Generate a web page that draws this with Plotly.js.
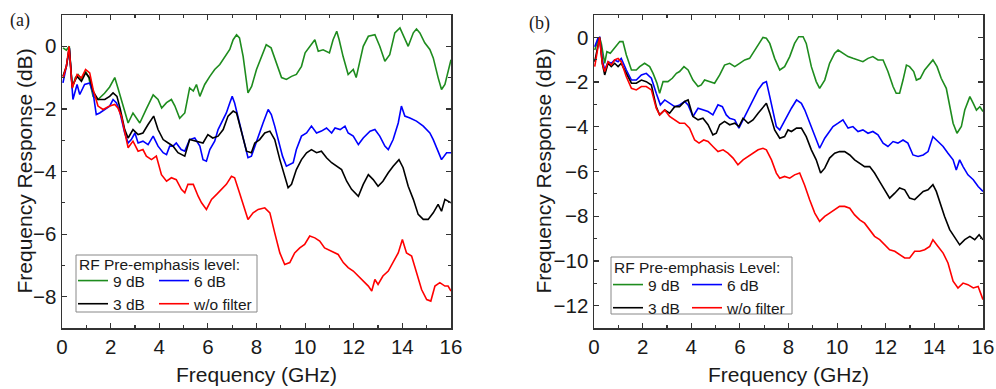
<!DOCTYPE html>
<html>
<head>
<meta charset="utf-8">
<script src="https://cdn.plot.ly/plotly-3.0.1.min.js"></script>
<style>
  html, body { margin: 0; padding: 0; background: #fff; }
  #chart { width: 996px; height: 389px; }
</style>
</head>
<body>
<div id="chart"></div>
<script>
// ---------- Panel (a) data ----------
const aGreenX = [0.04,0.18,0.3,0.42,0.55,0.66,0.8,0.97,1.1,1.28,1.48,1.75,1.96,2.17,2.3,2.5,2.72,2.92,3.2,3.47,3.75,3.95,4.1,4.3,4.5,4.64,4.84,5.05,5.25,5.4,5.53,5.67,5.87,6.08,6.28,6.49,6.63,6.9,7.04,7.18,7.3,7.45,7.65,7.8,8.0,8.2,8.4,8.6,8.82,9.03,9.23,9.44,9.64,9.85,10.0,10.2,10.4,10.54,10.74,11.0,11.15,11.3,11.4,11.56,11.77,11.98,12.1,12.25,12.39,12.6,12.87,13.07,13.28,13.48,13.69,13.9,14.1,14.24,14.45,14.58,14.72,14.92,15.13,15.27,15.47,15.61,15.75,15.88,16.0];
const aGreenY = [-0.05,-0.12,0,-1.35,-1.0,-0.9,-1.05,-0.8,-1.0,-1.6,-1.7,-1.5,-1.3,-1.0,-1.33,-1.9,-2.45,-2.13,-2.45,-2.0,-1.55,-1.7,-1.97,-1.8,-1.7,-1.9,-2.3,-2.13,-1.33,-1.43,-1.22,-1.6,-1.22,-0.96,-0.74,-0.58,-0.43,-0.1,0.21,0.37,0.27,-0.32,-1.49,-1.28,-0.74,-0.37,0.05,-0.05,-0.53,-1.0,-1.06,-0.96,-0.9,-0.64,-0.21,0,0.21,-0.16,-0.11,-0.21,0.21,0.48,0.21,-0.32,-0.9,-0.74,-1.0,-0.48,0,0.32,0.37,0,-0.48,-0.27,0.43,0.59,0.27,0,0.43,0.55,0.43,0.11,-0.1,-0.37,-1.0,-1.38,-1.22,-0.8,-0.43];

const aBlueX = [0.04,0.18,0.3,0.45,0.62,0.73,0.93,1.14,1.28,1.41,1.55,1.76,1.96,2.1,2.24,2.37,2.58,2.72,2.85,3.0,3.13,3.33,3.54,3.75,3.95,4.16,4.3,4.43,4.57,4.7,4.9,5.05,5.25,5.46,5.67,5.8,5.94,6.08,6.28,6.42,6.56,6.76,6.9,7.0,7.1,7.3,7.52,7.65,7.79,7.93,8.07,8.27,8.48,8.61,8.75,8.89,9.07,9.23,9.37,9.51,9.64,9.85,10.06,10.26,10.47,10.67,10.88,11.09,11.23,11.44,11.64,11.77,11.98,12.19,12.39,12.67,12.87,13.07,13.28,13.42,13.62,13.83,13.96,14.1,14.31,14.58,14.86,15.13,15.27,15.41,15.61,15.82,16.0];
const aBlueY = [-1.17,-0.64,-0.05,-1.7,-1.22,-1.54,-1.22,-1.17,-1.49,-2.18,-2.13,-2.02,-1.91,-1.7,-1.81,-2.07,-2.77,-3.09,-2.98,-2.77,-3.09,-3.03,-3.14,-2.87,-3.19,-3.4,-3.46,-3.19,-3.19,-3.09,-3.3,-3.35,-2.98,-2.93,-3.19,-3.62,-3.67,-3.3,-3.03,-2.66,-2.45,-2.13,-1.81,-1.6,-1.81,-2.45,-3.19,-3.56,-3.51,-3.19,-2.87,-2.45,-2.02,-2.18,-2.55,-2.98,-3.51,-3.83,-3.78,-3.72,-3.3,-2.87,-2.77,-2.55,-2.77,-2.71,-2.61,-2.77,-2.61,-2.66,-2.55,-2.77,-2.87,-3.14,-2.93,-2.71,-2.66,-2.87,-3.19,-3.3,-2.98,-2.45,-1.91,-2.23,-2.29,-2.39,-2.55,-2.77,-2.98,-3.25,-3.62,-3.4,-3.4];

const aBlackX = [0.04,0.18,0.3,0.42,0.62,0.8,0.97,1.14,1.28,1.48,1.76,1.96,2.1,2.26,2.4,2.58,2.72,2.92,3.13,3.33,3.54,3.77,3.95,4.16,4.37,4.57,4.77,5.05,5.25,5.53,5.8,6.0,6.2,6.42,6.63,6.83,7.04,7.18,7.38,7.59,7.79,7.93,8.13,8.34,8.55,8.75,8.96,9.16,9.3,9.44,9.64,9.85,10.06,10.26,10.47,10.67,10.88,11.09,11.3,11.5,11.71,11.91,12.19,12.39,12.6,12.8,13.0,13.2,13.42,13.62,13.86,14.03,14.24,14.45,14.65,14.86,15.06,15.27,15.47,15.61,15.75,16.0];
const aBlackY = [-0.96,-0.64,-0.05,-1.28,-0.96,-1.12,-0.85,-1.01,-1.44,-1.7,-1.7,-1.6,-1.49,-1.6,-2.02,-2.66,-2.93,-2.66,-2.82,-2.77,-2.5,-2.23,-2.66,-2.98,-3.09,-3.19,-3.4,-3.51,-2.98,-3.03,-3.09,-2.82,-2.93,-2.87,-2.66,-2.23,-2.07,-2.13,-2.77,-3.35,-3.4,-3.09,-2.98,-2.77,-2.71,-2.98,-3.62,-4.15,-4.52,-4.41,-3.94,-3.62,-3.4,-3.3,-3.4,-3.35,-3.56,-3.72,-3.83,-3.94,-4.31,-4.57,-4.79,-4.41,-4.1,-4.26,-4.47,-4.31,-4.04,-3.83,-3.62,-3.88,-4.47,-4.89,-5.37,-5.53,-5.53,-5.32,-5.05,-5.27,-4.89,-5.0];

const aRedX = [0.04,0.18,0.29,0.42,0.62,0.8,0.97,1.14,1.28,1.48,1.69,1.96,2.17,2.3,2.44,2.58,2.72,2.92,3.13,3.33,3.47,3.68,3.88,4.09,4.3,4.5,4.7,4.91,5.05,5.18,5.4,5.6,5.74,5.94,6.15,6.36,6.56,6.76,6.97,7.1,7.3,7.52,7.65,7.86,8.07,8.34,8.55,8.75,8.96,9.16,9.37,9.57,9.78,9.98,10.19,10.4,10.6,10.8,11.09,11.36,11.57,11.77,11.98,12.19,12.39,12.6,12.74,12.87,13.0,13.2,13.42,13.62,13.83,14.0,14.17,14.38,14.58,14.79,15.0,15.17,15.34,15.54,15.75,15.88,16.0];
const aRedY = [-1.01,-0.64,0,-1.33,-0.9,-1.01,-0.74,-0.85,-1.38,-1.91,-2.02,-1.91,-1.86,-1.97,-2.23,-2.77,-3.24,-3.03,-3.35,-3.3,-3.51,-3.62,-3.51,-4.1,-4.31,-4.2,-4.26,-4.57,-4.68,-4.41,-4.41,-4.79,-5.0,-5.21,-4.89,-4.73,-4.57,-4.41,-4.15,-4.2,-4.68,-5.21,-5.53,-5.32,-5.21,-5.16,-5.32,-5.96,-6.6,-6.97,-6.91,-6.6,-6.44,-6.33,-6.06,-6.12,-6.22,-6.44,-6.54,-6.65,-6.91,-7.07,-7.18,-7.34,-7.5,-7.66,-7.82,-7.45,-7.61,-7.34,-7.18,-6.91,-6.6,-6.17,-6.6,-6.7,-7.23,-7.77,-8.09,-8.14,-7.66,-7.55,-7.66,-7.66,-7.82];

// ---------- Panel (b) data ----------
const bGreenX = [0.03,0.16,0.23,0.3,0.44,0.53,0.67,0.78,0.92,1.06,1.19,1.33,1.54,1.74,1.88,2.08,2.29,2.43,2.59,2.7,2.84,3.04,3.22,3.39,3.52,3.7,3.87,4.07,4.28,4.41,4.55,4.76,4.96,5.17,5.37,5.58,5.79,5.99,6.2,6.4,6.61,6.81,6.95,7.09,7.23,7.43,7.64,7.84,8.05,8.25,8.42,8.6,8.73,8.94,9.14,9.28,9.49,9.69,9.9,10.04,10.24,10.45,10.65,10.86,11.06,11.27,11.47,11.68,11.89,12.09,12.3,12.43,12.57,12.71,12.85,12.98,13.15,13.26,13.42,13.6,13.81,13.94,14.11,14.28,14.49,14.63,14.77,14.93,15.11,15.25,15.46,15.6,15.73,15.87,16.0];
const bGreenY = [-0.57,-0.12,0,-0.27,-1.16,-0.64,-0.71,-0.57,-0.42,-0.19,-0.19,-0.79,-1.46,-1.46,-1.31,-1.16,-1.31,-1.61,-2.05,-2.5,-1.98,-1.98,-1.83,-1.61,-1.53,-1.31,-1.46,-1.91,-2.2,-2.13,-1.91,-1.98,-2.05,-1.68,-1.24,-1.16,-1.31,-1.16,-1.01,-0.94,-0.57,-0.27,0,-0.04,-0.27,-0.94,-1.46,-1.31,-0.86,-0.27,0.03,0.03,-0.27,-1.31,-1.98,-2.28,-1.91,-1.16,-0.71,-0.57,-0.71,-0.86,-0.94,-1.01,-1.09,-0.94,-0.86,-1.01,-1.01,-1.53,-2.2,-2.5,-2.5,-1.91,-1.24,-1.31,-1.53,-1.91,-1.83,-1.46,-1.16,-1.01,-1.31,-1.83,-2.28,-3.1,-3.84,-4.29,-3.99,-3.25,-2.65,-2.95,-3.25,-3.1,-3.32];

const bBlueX = [0.03,0.16,0.23,0.34,0.44,0.58,0.71,0.85,0.99,1.12,1.33,1.54,1.74,1.95,2.15,2.36,2.56,2.73,2.91,3.11,3.32,3.52,3.73,3.87,4.07,4.28,4.48,4.69,4.89,5.1,5.28,5.44,5.58,5.79,5.96,6.13,6.34,6.54,6.75,6.95,7.09,7.23,7.37,7.5,7.64,7.78,7.92,8.12,8.33,8.53,8.67,8.87,9.08,9.28,9.49,9.62,9.83,10.04,10.24,10.45,10.65,10.86,11.06,11.27,11.47,11.68,11.89,12.09,12.3,12.5,12.71,12.91,13.12,13.33,13.54,13.74,13.94,14.15,14.36,14.56,14.77,14.9,15.04,15.18,15.38,15.6,15.8,16.0];
const bBlueY = [-0.42,-0.04,0,-1.01,-1.46,-1.09,-1.16,-1.01,-1.09,-0.94,-1.46,-1.91,-1.91,-1.68,-1.61,-1.83,-2.5,-3.02,-2.8,-2.95,-3.1,-3.02,-2.87,-3.02,-3.54,-3.17,-3.25,-3.32,-3.47,-3.02,-3.1,-3.47,-3.62,-3.69,-4.06,-3.69,-3.25,-2.8,-2.35,-2.05,-1.98,-2.65,-3.39,-3.99,-4.14,-3.84,-3.54,-3.17,-2.8,-2.95,-3.25,-3.84,-4.44,-4.96,-4.51,-4.29,-3.99,-3.84,-3.69,-4.06,-3.99,-4.21,-4.14,-4.29,-4.21,-4.36,-4.73,-4.88,-4.66,-4.73,-4.59,-4.73,-5.26,-5.33,-5.26,-5.11,-4.44,-4.66,-4.88,-5.18,-5.48,-5.93,-5.48,-5.78,-6.15,-6.37,-6.67,-6.89];

const bBlackX = [0.03,0.16,0.23,0.34,0.44,0.58,0.71,0.85,0.99,1.12,1.33,1.54,1.74,1.95,2.15,2.36,2.56,2.7,2.91,3.11,3.32,3.52,3.73,3.87,4.07,4.28,4.48,4.69,4.89,5.03,5.17,5.37,5.58,5.79,5.96,6.13,6.34,6.54,6.75,6.95,7.09,7.23,7.43,7.64,7.84,7.98,8.12,8.33,8.53,8.73,8.94,9.14,9.32,9.49,9.69,9.9,10.1,10.31,10.52,10.72,10.93,11.13,11.34,11.54,11.75,11.96,12.16,12.37,12.57,12.78,12.98,13.19,13.4,13.54,13.74,13.94,14.08,14.28,14.42,14.63,14.84,15.04,15.25,15.46,15.66,15.84,16.0];
const bBlackY = [-1.09,-0.27,0,-1.16,-1.68,-1.16,-1.31,-1.16,-1.31,-1.16,-1.61,-2.05,-2.05,-1.91,-1.98,-2.13,-3.1,-3.47,-3.25,-3.39,-3.1,-3.1,-2.87,-2.8,-3.54,-3.69,-3.62,-3.91,-4.36,-4.29,-3.91,-3.76,-3.91,-3.84,-3.99,-3.62,-3.84,-3.69,-3.39,-3.1,-2.95,-3.39,-4.14,-4.51,-4.44,-4.14,-4.21,-4.06,-4.06,-4.44,-5.03,-5.48,-6.07,-5.85,-5.4,-5.18,-5.11,-5.11,-5.26,-5.48,-5.63,-5.78,-5.78,-6.07,-6.45,-6.82,-7.19,-6.97,-6.74,-6.82,-7.19,-7.26,-7.04,-6.89,-6.82,-6.59,-6.89,-7.56,-8.01,-8.6,-8.98,-9.28,-9.05,-8.9,-9.05,-8.83,-9.05];

const bRedX = [0.03,0.16,0.23,0.34,0.44,0.58,0.71,0.85,0.99,1.12,1.33,1.54,1.74,1.95,2.15,2.36,2.56,2.7,2.91,3.11,3.32,3.52,3.73,3.93,4.14,4.32,4.51,4.69,4.89,5.1,5.31,5.51,5.72,5.92,6.13,6.34,6.54,6.75,6.95,7.09,7.3,7.5,7.64,7.84,8.05,8.25,8.46,8.66,8.87,9.08,9.28,9.49,9.69,9.9,10.1,10.31,10.52,10.72,10.93,11.13,11.34,11.54,11.75,11.96,12.16,12.37,12.57,12.78,12.98,13.19,13.4,13.6,13.81,13.94,14.15,14.36,14.56,14.77,14.97,15.18,15.38,15.6,15.8,16.0];
const bRedY = [-1.31,-0.42,0,-1.16,-1.53,-1.09,-1.24,-1.01,-0.94,-1.09,-1.76,-2.28,-2.35,-2.2,-2.2,-2.35,-3.17,-3.47,-3.25,-3.54,-3.69,-3.84,-3.84,-4.06,-4.59,-4.73,-4.59,-4.66,-4.88,-5.11,-5.03,-5.18,-5.4,-5.7,-5.48,-5.33,-5.18,-5.03,-4.96,-5.03,-5.48,-6.07,-6.3,-6.22,-6.3,-6.15,-6.07,-6.6,-7.26,-7.86,-8.23,-8.01,-7.86,-7.71,-7.56,-7.56,-7.64,-7.94,-8.16,-8.31,-8.6,-8.9,-9.05,-9.28,-9.5,-9.57,-9.72,-9.87,-9.87,-9.57,-9.57,-9.5,-9.35,-9.05,-9.35,-9.65,-10.09,-10.91,-11.21,-10.99,-11.06,-11.21,-11.14,-11.73];

// ---------- labels ----------
const seriesNames = ["9 dB", "6 dB", "3 dB", "w/o filter"];
const seriesColors = ["#1e8c1e", "#0000ff", "#000000", "#ff0000"];
const legendTitleA = "RF Pre-emphasis level:";
const legendTitleB = "RF Pre-emphasis Level:";
const xTitle = "Frequency (GHz)";
const yTitle = "Frequency Response (dB)";

const W = 996, H = 389;
const px = v => v / W;
const py = v => 1 - v / H;

const FONT = "Liberation Sans";
const LEGFS = 15.5;
const TXT = "#1a1a1a";

function mk(x, y, idx, xa, ya, leg) {
  return {
    x: x, y: y, type: "scatter", mode: "lines",
    name: seriesNames[idx],
    line: { color: seriesColors[idx], width: 1.6 },
    xaxis: xa, yaxis: ya, legend: leg,
    hoverinfo: "skip"
  };
}

const traces = [
  mk(aGreenX, aGreenY, 0, "x", "y", "legend"),
  mk(aBlueX, aBlueY, 1, "x", "y", "legend2"),
  mk(aBlackX, aBlackY, 2, "x", "y", "legend"),
  mk(aRedX, aRedY, 3, "x", "y", "legend2"),
  mk(bGreenX, bGreenY, 0, "x2", "y2", "legend3"),
  mk(bBlueX, bBlueY, 1, "x2", "y2", "legend4"),
  mk(bBlackX, bBlackY, 2, "x2", "y2", "legend3"),
  mk(bRedX, bRedY, 3, "x2", "y2", "legend4")
];

function xAxis(domain, anchor) {
  return {
    domain: domain, anchor: anchor, range: [0, 16], dtick: 2, tick0: 0,
    ticks: "inside", ticklen: 5, tickwidth: 1.2, tickcolor: "#333",
    minor: { dtick: 1, ticks: "inside", ticklen: 3, tickwidth: 1.2, tickcolor: "#333" },
    showline: true, linecolor: "#333", linewidth: 1.5, mirror: "ticks",
    showgrid: false, zeroline: false,
    tickfont: { family: FONT, size: 20.5, color: TXT },
    title: { text: xTitle, font: { family: FONT, size: 21, color: TXT }, standoff: 10 }
  };
}
function yAxis(range, anchor) {
  return {
    domain: [1 - 328 / H, 1 - 15 / H], anchor: anchor, range: range, dtick: 2, tick0: 0,
    ticks: "inside", ticklen: 5, tickwidth: 1.2, tickcolor: "#333",
    minor: { dtick: 1, ticks: "inside", ticklen: 3, tickwidth: 1.2, tickcolor: "#333" },
    showline: true, linecolor: "#333", linewidth: 1.5, mirror: "ticks",
    showgrid: false, zeroline: false,
    tickfont: { family: FONT, size: 20.5, color: TXT }
  };
}
function legendAt(xpx, ytop) {
  return {
    x: px(xpx), y: py(ytop), xanchor: "left", yanchor: "top",
    bgcolor: "rgba(0,0,0,0)", borderwidth: 0, tracegroupgap: 0,
    font: { family: FONT, size: LEGFS, color: TXT },
    itemwidth: 30, orientation: "v", traceorder: "normal"
  };
}
function note(text, xp, yp, size, family, angle) {
  return { text: text, xref: "paper", yref: "paper", x: px(xp), y: py(yp),
    xanchor: angle ? "center" : "left", yanchor: "middle", textangle: angle || 0,
    showarrow: false, font: { family: family, size: size, color: TXT } };
}

const layout = {
  width: W, height: H,
  margin: { l: 0, r: 0, t: 0, b: 0 },
  paper_bgcolor: "#fff", plot_bgcolor: "#fff",
  showlegend: true,
  xaxis: xAxis([62 / W, 451 / W], "y"),
  yaxis: yAxis([-9, 1], "x"),
  xaxis2: xAxis([594 / W, 983 / W], "y2"),
  yaxis2: yAxis([-13, 1], "x2"),
  legend: legendAt(73, 264),
  legend2: legendAt(154, 264),
  legend3: legendAt(608, 268),
  legend4: legendAt(687, 268),
  shapes: [
    { type: "rect", xref: "paper", yref: "paper", x0: px(76), x1: px(257), y0: py(312), y1: py(255),
      line: { color: "#888", width: 1 }, fillcolor: "rgba(0,0,0,0)" },
    { type: "rect", xref: "paper", yref: "paper", x0: px(611), x1: px(792), y0: py(314), y1: py(257),
      line: { color: "#888", width: 1 }, fillcolor: "rgba(0,0,0,0)" }
  ],
  annotations: [
    note(legendTitleA, 77, 264, LEGFS, FONT),
    note(legendTitleB, 612, 267, LEGFS, FONT),
    note(yTitle, 24, 171.5, 21, FONT, -90),
    note(yTitle, 543, 171.5, 21, FONT, -90),
    note("(a)", 8, 21, 18, "Liberation Serif"),
    note("(b)", 527, 23, 18, "Liberation Serif")
  ]
};

Plotly.newPlot("chart", traces, layout, { staticPlot: true, displayModeBar: false });
</script>
</body>
</html>
